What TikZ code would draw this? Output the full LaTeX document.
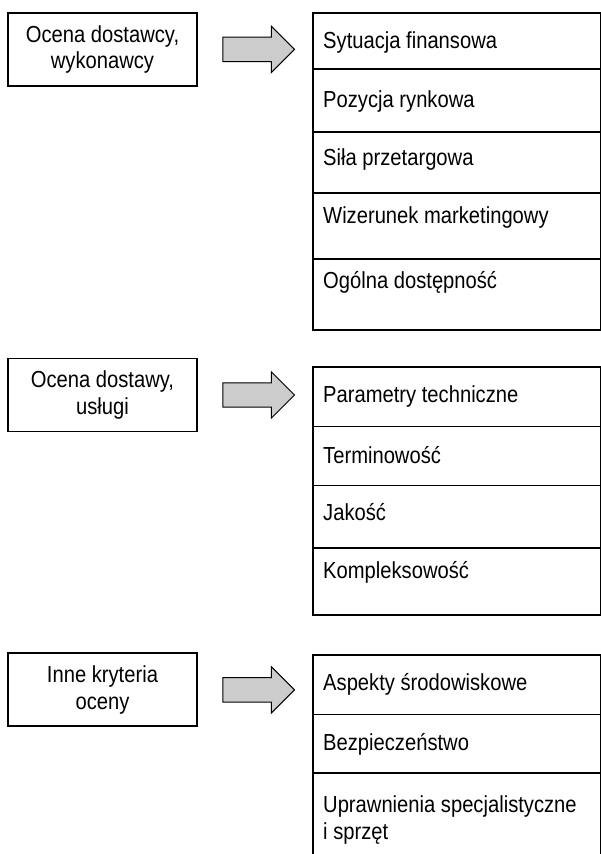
\documentclass[tikz,border=0pt]{standalone}
\usepackage{fontspec}
\setmainfont{Liberation Sans}[FakeStretch=0.87]
\usetikzlibrary{shapes.arrows,positioning}

\begin{document}
\begin{tikzpicture}[x=1pt, y=-1pt,
    every node/.style={font=\fontsize{23.2}{26.5}\selectfont},
    crit/.style={rectangle, draw=black, line width=1.8pt, minimum width=189pt, minimum height=73pt, align=center},
    bigarrow/.style={single arrow, draw=black, fill=black!20, line width=1pt, minimum height=71.6pt, minimum width=45.4pt,
        single arrow head extend=11pt, single arrow tip angle=90, inner xsep=0pt, inner ysep=11.7pt},
    list/.style={draw=black, line width=1.8pt},
    item/.style={anchor=mid west, inner sep=0pt, align=left}]
    \useasboundingbox (0,0) rectangle (601,854);
    \clip (0,0) rectangle (601,854);
    % dostawca
    \node[crit] (dostawca) at (102.5,49.4) {Ocena dostawcy,\\wykonawcy};
    \node[bigarrow, right=24.5pt of dostawca] (arr1) {};
    \draw[list] (313,12.7) rectangle (600.5,330);
    \foreach \y in {69.3,132,192.7,259.3} \draw[list] (313,\y) -- (600.5,\y);
    \node[item] (finanse) at (323,46) {Sytuacja finansowa};
    \node[item] (rynek) at (323,104.5) {Pozycja rynkowa};
    \node[item] (przetarg) at (323,162.5) {Siła przetargowa};
    \node[item] (wizerunek) at (323,221) {Wizerunek marketingowy};
    \node[item] (dostepnosc) at (323,286) {Ogólna dostępność};
    % dostawa
    \node[crit] (dostawa) at (102.5,395) {Ocena dostawy,\\usługi};
    \node[bigarrow, right=24.5pt of dostawa] (arr2) {};
    \draw[list] (313,366.7) rectangle (600.5,614.7);
    \foreach \y in {426.5,485.5,548} \draw[list] (313,\y) -- (600.5,\y);
    \node[item] (parametry) at (323,399.5) {Parametry techniczne};
    \node[item] (termin) at (323,461) {Terminowość};
    \node[item] (jakosc) at (323,517.5) {Jakość};
    \node[item] (kompleks) at (323,576) {Kompleksowość};
    % inne
    \node[crit] (inne) at (102.5,689.8) {Inne kryteria\\oceny};
    \node[bigarrow, right=24.5pt of inne] (arr3) {};
    \draw[list] (313,654.7) rectangle (600.5,870);
    \foreach \y in {714.5,773.3} \draw[list] (313,\y) -- (600.5,\y);
    \node[item] (srodowisko) at (323,687.5) {Aspekty środowiskowe};
    \node[item] (bezpieczenstwo) at (323,747.5) {Bezpieczeństwo};
    \node[item, anchor=west] (uprawnienia) at (323,820) {Uprawnienia specjalistyczne\\i sprzęt};
\end{tikzpicture}
\end{document}
